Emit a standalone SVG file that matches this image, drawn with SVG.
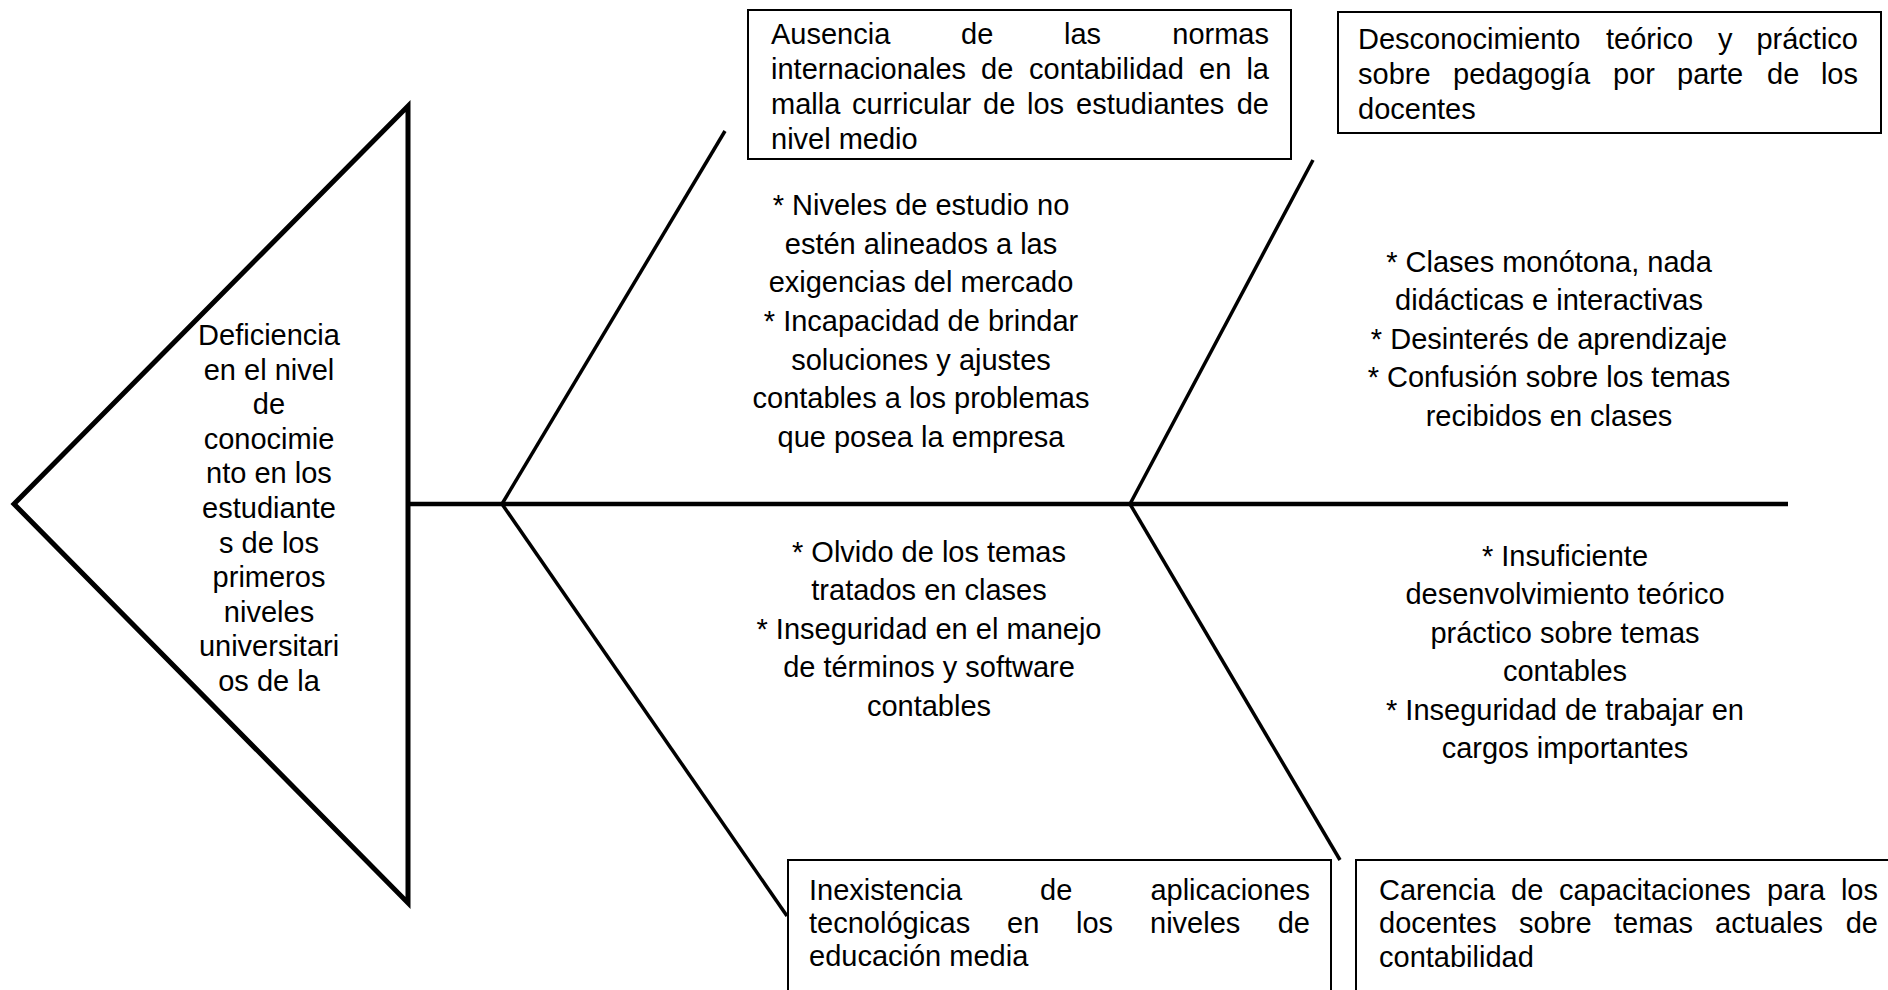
<svg xmlns="http://www.w3.org/2000/svg" width="1888" height="990" viewBox="0 0 1888 990">
<style>
  text { font-family: "Liberation Sans", Arial, sans-serif; font-size: 29px; fill: #000; }
  .c { text-anchor: middle; }
  .e { text-anchor: end; }
  .box { fill: #fff; stroke: #000; stroke-width: 2; }
  .bone { stroke: #000; stroke-width: 3.5; fill: none; }
  .spine { stroke: #000; stroke-width: 4.5; fill: none; }
  .head { fill: #fff; stroke: #000; stroke-width: 5; stroke-linejoin: miter; }
</style>
<rect width="1888" height="990" fill="#fff"/>

<g id="connectors">
  <line class="spine" x1="408" y1="504" x2="1788" y2="504"/>
  <line class="bone" x1="502" y1="504" x2="725" y2="131"/>
  <line class="bone" x1="502" y1="504" x2="787" y2="916"/>
  <line class="bone" x1="1130" y1="504" x2="1313" y2="160"/>
  <line class="bone" x1="1130" y1="504" x2="1340" y2="860"/>
</g>

<g id="head">
  <polygon class="head" points="14,504 408,106 408,903"/>
  <text class="c" x="269" y="345">Deficiencia</text>
  <text class="c" x="269" y="380">en el nivel</text>
  <text class="c" x="269" y="414">de</text>
  <text class="c" x="269" y="449">conocimie</text>
  <text class="c" x="269" y="483">nto en los</text>
  <text class="c" x="269" y="518">estudiante</text>
  <text class="c" x="269" y="553">s de los</text>
  <text class="c" x="269" y="587">primeros</text>
  <text class="c" x="269" y="622">niveles</text>
  <text class="c" x="269" y="656">universitari</text>
  <text class="c" x="269" y="691">os de la</text>
</g>

<g id="cause-normas">
  <rect class="box" x="748" y="10" width="543" height="149"/>
  <text y="44"><tspan x="771">Ausencia</tspan><tspan x="961">de</tspan><tspan x="1064">las</tspan><tspan x="1269" class="e">normas</tspan></text>
  <text y="79"><tspan x="771">internacionales</tspan><tspan x="981">de</tspan><tspan x="1029">contabilidad</tspan><tspan x="1199">en</tspan><tspan x="1269" class="e">la</tspan></text>
  <text y="114"><tspan x="771">malla</tspan><tspan x="852">curricular</tspan><tspan x="983">de</tspan><tspan x="1027">los</tspan><tspan x="1076">estudiantes</tspan><tspan x="1269" class="e">de</tspan></text>
  <text x="771" y="149">nivel medio</text>
</g>

<g id="cause-pedagogia">
  <rect class="box" x="1338" y="12" width="543" height="121"/>
  <text y="49"><tspan x="1358">Desconocimiento</tspan><tspan x="1606">teórico</tspan><tspan x="1718">y</tspan><tspan x="1858" class="e">práctico</tspan></text>
  <text y="84"><tspan x="1358">sobre</tspan><tspan x="1453">pedagogía</tspan><tspan x="1613">por</tspan><tspan x="1677">parte</tspan><tspan x="1767">de</tspan><tspan x="1858" class="e">los</tspan></text>
  <text x="1358" y="119">docentes</text>
</g>

<g id="cause-aplicaciones">
  <rect class="box" x="788" y="860" width="543" height="140"/>
  <text y="900"><tspan x="809">Inexistencia</tspan><tspan x="1040">de</tspan><tspan x="1310" class="e">aplicaciones</tspan></text>
  <text y="933"><tspan x="809">tecnológicas</tspan><tspan x="1007">en</tspan><tspan x="1076">los</tspan><tspan x="1150">niveles</tspan><tspan x="1310" class="e">de</tspan></text>
  <text x="809" y="966">educación media</text>
</g>

<g id="cause-capacitaciones">
  <rect class="box" x="1356" y="860" width="540" height="140"/>
  <text y="900"><tspan x="1379">Carencia</tspan><tspan x="1511">de</tspan><tspan x="1559">capacitaciones</tspan><tspan x="1767">para</tspan><tspan x="1878" class="e">los</tspan></text>
  <text y="933"><tspan x="1379">docentes</tspan><tspan x="1519">sobre</tspan><tspan x="1614">temas</tspan><tspan x="1715">actuales</tspan><tspan x="1878" class="e">de</tspan></text>
  <text x="1379" y="967">contabilidad</text>
</g>

<g id="effects-normas">
  <text class="c" x="921" y="215">* Niveles de estudio no</text>
  <text class="c" x="921" y="254">estén alineados a las</text>
  <text class="c" x="921" y="292">exigencias del mercado</text>
  <text class="c" x="921" y="331">* Incapacidad de brindar</text>
  <text class="c" x="921" y="370">soluciones y ajustes</text>
  <text class="c" x="921" y="408">contables a los problemas</text>
  <text class="c" x="921" y="447">que posea la empresa</text>
</g>

<g id="effects-pedagogia">
  <text class="c" x="1549" y="272">* Clases monótona, nada</text>
  <text class="c" x="1549" y="310">didácticas e interactivas</text>
  <text class="c" x="1549" y="349">* Desinterés de aprendizaje</text>
  <text class="c" x="1549" y="387">* Confusión sobre los temas</text>
  <text class="c" x="1549" y="426">recibidos en clases</text>
</g>

<g id="effects-aplicaciones">
  <text class="c" x="929" y="562">* Olvido de los temas</text>
  <text class="c" x="929" y="600">tratados en clases</text>
  <text class="c" x="929" y="639">* Inseguridad en el manejo</text>
  <text class="c" x="929" y="677">de términos y software</text>
  <text class="c" x="929" y="716">contables</text>
</g>

<g id="effects-capacitaciones">
  <text class="c" x="1565" y="566">* Insuficiente</text>
  <text class="c" x="1565" y="604">desenvolvimiento teórico</text>
  <text class="c" x="1565" y="643">práctico sobre temas</text>
  <text class="c" x="1565" y="681">contables</text>
  <text class="c" x="1565" y="720">* Inseguridad de trabajar en</text>
  <text class="c" x="1565" y="758">cargos importantes</text>
</g>
</svg>
